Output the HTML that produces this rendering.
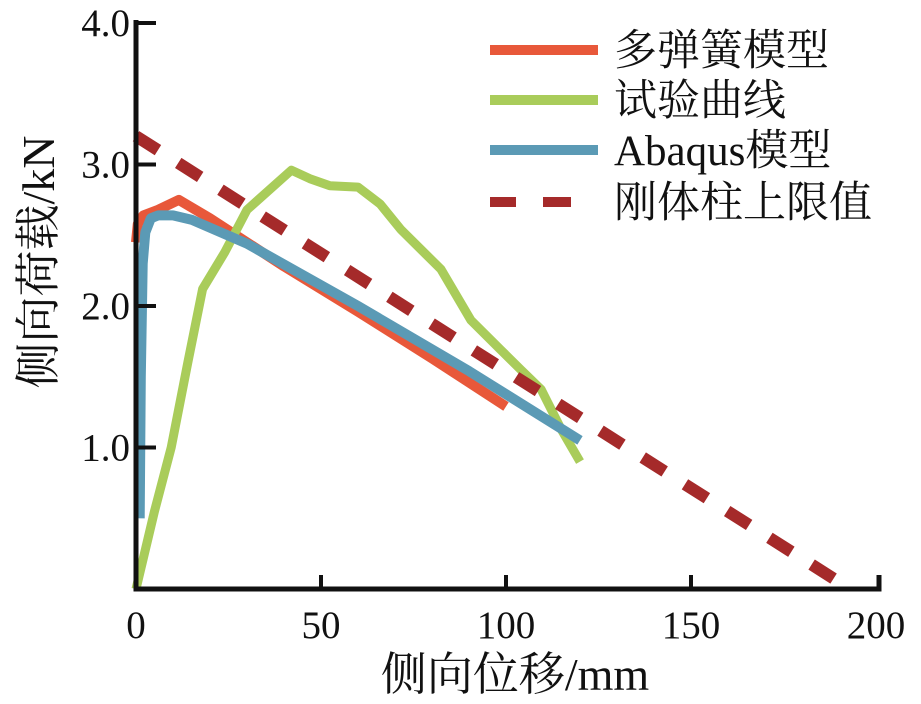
<!DOCTYPE html>
<html><head><meta charset="utf-8"><style>
html,body{margin:0;padding:0;background:#fff;}
svg{display:block;}
text{font-family:"Liberation Serif","Noto Serif CJK SC",serif;fill:#111;}
</style></head><body>
<svg id="chart" width="921" height="704" viewBox="0 0 921 704"></svg>
<script>
const xTicks=[0,50,100,150,200];
const yTicks=[1.0,2.0,3.0,4.0];
const springX=[0,0.5,2,6,11.6,20,40,60,80,100];
const springY=[2.45,2.58,2.64,2.68,2.75,2.62,2.28,1.96,1.63,1.29];
const testX=[0,5,9.5,14,18,24,30,36,42,47,52.4,60,66,71.6,82.4,90.5,98.6,104,109.5,114.9,120];
const testY=[0,0.55,1.0,1.6,2.12,2.38,2.68,2.82,2.96,2.9,2.85,2.84,2.72,2.54,2.26,1.9,1.69,1.55,1.41,1.13,0.9];
const abaqusX=[1,1.3,1.8,2.5,4,6,10,15,30,60,90,120];
const abaqusY=[0.5,1.5,2.3,2.52,2.62,2.64,2.64,2.61,2.44,2.0,1.54,1.05];
const boundX=[0,193];
const boundY=[3.2,0];
const legendLabels=["多弹簧模型","试验曲线","Abaqus模型","刚体柱上限值"];

const X0=136,X1=876,Y0=589,PX=(X1-X0)/200,PY=141.5;
const sx=v=>X0+v*PX, sy=v=>Y0-v*PY;
const svg=document.getElementById('chart');
const NS='http://www.w3.org/2000/svg';
function mk(tag,attrs,parent){const e=document.createElementNS(NS,tag);for(const k in attrs)e.setAttribute(k,attrs[k]);(parent||svg).appendChild(e);return e;}
function pts(xs,ys){return xs.map((x,i)=>sx(x).toFixed(1)+','+sy(ys[i]).toFixed(1)).join(' ');}

let p;
p=mk('polyline',{points:pts(springX,springY),fill:'none',stroke:'#e8583a','stroke-width':10,'stroke-linejoin':'round'});


p=mk('polyline',{points:pts(testX,testY),fill:'none',stroke:'#a9cc5a','stroke-width':9,'stroke-linejoin':'round'});


p=mk('polyline',{points:pts(abaqusX,abaqusY),fill:'none',stroke:'#5b9ab5','stroke-width':10,'stroke-linejoin':'round'});


p=mk('polyline',{points:pts(boundX,boundY),fill:'none',stroke:'#a52a2a','stroke-width':12,'stroke-dasharray':'26 24'});



p=mk('path',{d:`M${X0} 20 V${Y0} H${X1+3} V${Y0-14}`,fill:'none',stroke:'#111','stroke-width':5});


xTicks.forEach(v=>{
  if(v>0&&v<200){const t=mk('line',{x1:sx(v),x2:sx(v),y1:Y0,y2:Y0-14,stroke:'#111','stroke-width':4});
  
  }
  const l=mk('text',{x:sx(v),y:638,'text-anchor':'middle','font-size':39});l.textContent=v;
  
  
});
yTicks.forEach(v=>{
  const t=mk('line',{x1:X0,x2:X0+20,y1:sy(v),y2:sy(v),stroke:'#111','stroke-width':4});
  
  
  const l=mk('text',{x:X0-6,y:sy(v)+13,'text-anchor':'end','font-size':39});l.textContent=v.toFixed(1);
  
  
});
let t=mk('text',{x:515,y:690,'text-anchor':'middle','font-size':46});t.textContent='侧向位移/mm';


t=mk('text',{x:0,y:0,'text-anchor':'middle','font-size':46,transform:'translate(54,262) rotate(-90)'});t.textContent='侧向荷载/kN';



const lc=['#e8583a','#a9cc5a','#5b9ab5','#a52a2a'];
const ly=[50,100,150,202];
legendLabels.forEach((s,i)=>{
  const g=mk('g',{});
  
  
  if(i<3) mk('line',{x1:490,x2:598,y1:ly[i],y2:ly[i],stroke:lc[i],'stroke-width':10},g);
  else { mk('line',{x1:490,x2:516,y1:ly[i],y2:ly[i],stroke:lc[i],'stroke-width':10},g);
         mk('line',{x1:543,x2:571,y1:ly[i],y2:ly[i],stroke:lc[i],'stroke-width':10},g);}
  const tx=mk('text',{x:614,y:ly[i]+15,'font-size':43},g);tx.textContent=s;
});
</script>
</body></html>
